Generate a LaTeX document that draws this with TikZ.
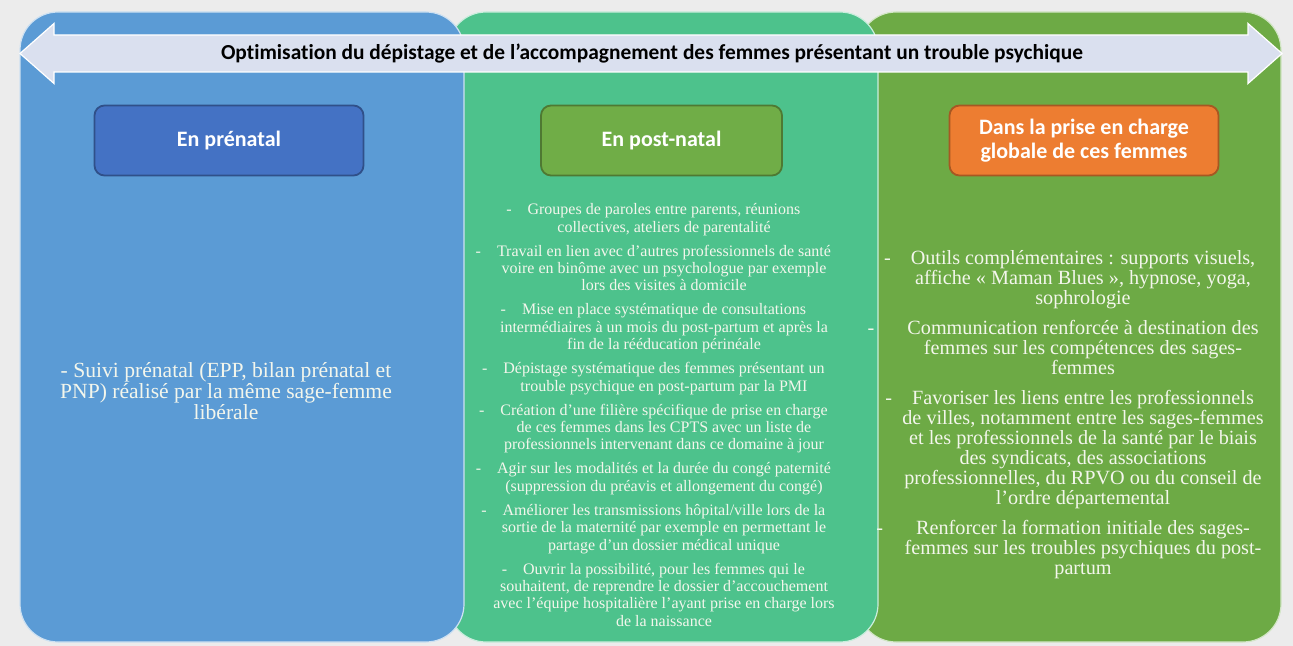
\documentclass[tikz,border=0pt]{standalone}
\usepackage{fontspec}
\setmainfont{Liberation Serif}
\newfontfamily\calib[Ligatures=NoCommon]{Carlito}
\definecolor{prenat}{HTML}{5B9BD5}
\definecolor{postnat}{HTML}{4DC28C}
\definecolor{globale}{HTML}{6DAA45}
\definecolor{bandeau}{HTML}{DAE0EF}
\definecolor{fond}{HTML}{ECECEC}
\definecolor{pale}{HTML}{F3F6EC}
\definecolor{bleuent}{HTML}{4472C4}
\definecolor{vertent}{HTML}{70AD47}
\definecolor{orangeent}{HTML}{ED7D31}
\newcommand{\tiret}[1]{\llap{-\hspace{#1}}}

\begin{document}
\begin{tikzpicture}
[x=0.5pt, y=-0.5pt,
panel/.style={rounded corners=19pt, draw=white!70!#1, fill=#1, line width=0.6pt},
entete/.style={shape=rectangle, rounded corners=5pt, draw=#1!70!black, fill=#1,
	line width=0.9pt, text=white, align=center,
	minimum width=134.5pt, minimum height=35pt,
	font=\calib\bfseries\fontsize{11}{12}\selectfont},
liste/.style={align=center, text=pale, inner sep=0pt},
]
\fill[fond] (0,0) rectangle (1293,646);

% les trois colonnes
\path[panel=globale] (858,12) rectangle (1281,642);
\path[panel=postnat] (448,12) rectangle (878,642);
\path[panel=prenat] (20,12) rectangle (464,642);

% fleche double du haut
\draw[fill=bandeau, draw=white, line width=0.6pt]
	(20,53.5) -- (54,23.5) -- (54,35) -- (1248,35) -- (1248,23.5) -- (1282,53.5)
	-- (1248,83.5) -- (1248,72) -- (54,72) -- (54,83.5) -- cycle;
\node[font=\calib\bfseries\fontsize{10.7}{12}\selectfont] (titre) at (652,53.5)
	{Optimisation du dépistage et de l’accompagnement des femmes présentant un trouble psychique};

% entetes
\node[entete=bleuent] (prenatal) at (229,140.5) {En prénatal};
\node[entete=vertent, minimum width=120.5pt] (postnatal) at (661.5,140.5) {En post-natal};
\node[entete=orangeent] (global) at (1084,140.5) {Dans la prise en charge\\globale de ces femmes};

% contenus
\node[liste, font=\fontsize{10.8}{10.5}\selectfont] (suivi) at (226,391)
	{- Suivi prénatal (EPP, bilan prénatal et\\
	PNP) réalisé par la même sage-femme\\
	libérale};

\node[liste, font=\fontsize{8}{8.7}\selectfont] (actions) at (664,415)
	{\tiret{8pt}Groupes de paroles entre parents, réunions\\
	collectives, ateliers de parentalité\\[3.3pt]
	\tiret{8pt}Travail en lien avec d’autres professionnels de santé\\
	voire en binôme avec un psychologue par exemple\\
	lors des visites à domicile\\[3.3pt]
	\tiret{8pt}Mise en place systématique de consultations\\
	intermédiaires à un mois du post-partum et après la\\
	fin de la rééducation périnéale\\[3.3pt]
	\tiret{8pt}Dépistage systématique des femmes présentant un\\
	trouble psychique en post-partum par la PMI\\[3.3pt]
	\tiret{8pt}Création d’une filière spécifique de prise en charge\\
	de ces femmes dans les CPTS avec un liste de\\
	professionnels intervenant dans ce domaine à jour\\[3.3pt]
	\tiret{8pt}Agir sur les modalités et la durée du congé paternité\\
	(suppression du préavis et allongement du congé)\\[3.3pt]
	\tiret{8pt}Améliorer les transmissions hôpital/ville lors de la\\
	sortie de la maternité par exemple en permettant le\\
	partage d’un dossier médical unique\\[3.3pt]
	\tiret{8pt}Ouvrir la possibilité, pour les femmes qui le\\
	souhaitent, de reprendre le dossier d’accouchement\\
	avec l’équipe hospitalière l’ayant prise en charge lors\\
	de la naissance};

\node[liste, font=\fontsize{10.1}{10}\selectfont] (outils) at (1083,415)
	{\tiret{10pt}Outils complémentaires : supports visuels,\\
	affiche «~Maman Blues~», hypnose, yoga,\\
	sophrologie\\[5pt]
	\tiret{16.5pt}Communication renforcée à destination des\\
	femmes sur les compétences des sages-\\
	femmes\\[5pt]
	\tiret{10pt}Favoriser les liens entre les professionnels\\
	de villes, notamment entre les sages-femmes\\
	et les professionnels de la santé par le biais\\
	des syndicats, des associations\\
	professionnelles, du RPVO ou du conseil de\\
	l’ordre départemental\\[5pt]
	\tiret{16.5pt}Renforcer la formation initiale des sages-\\
	femmes sur les troubles psychiques du post-\\
	partum};
\end{tikzpicture}
\end{document}
